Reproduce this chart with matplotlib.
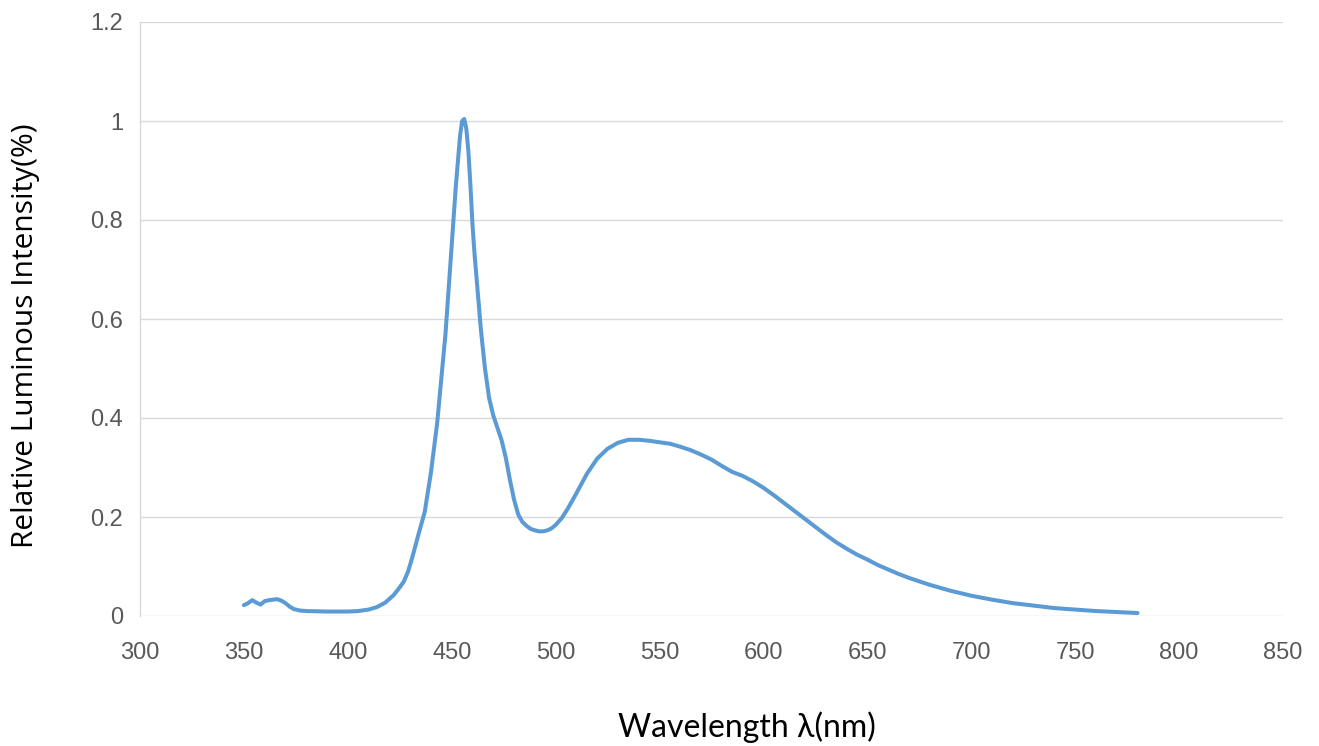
import matplotlib
matplotlib.use("Agg")
import matplotlib.pyplot as plt

wavelength = [350, 352, 354, 356, 358, 360, 362, 364, 366, 368, 370, 372, 374, 377, 380, 390, 400,
              405, 410, 414, 418, 422, 425, 427, 429, 431, 434, 437, 440, 443, 445, 447, 449, 451, 452,
              453, 454, 455, 456, 457, 458, 459, 460, 461, 462, 463, 464, 466, 468, 470, 472, 474, 476,
              478, 480, 482, 484, 486, 488, 490, 492, 494, 496, 498, 500, 503, 506, 510, 515, 520, 525,
              530, 535, 540, 545, 550, 555, 560, 565, 570, 575, 580, 585, 590, 595, 600, 605, 610, 615,
              620, 625, 630, 635, 640, 645, 650, 655, 660, 665, 670, 680, 690, 700, 710, 720, 730, 740,
              750, 760, 770, 780]
intensity = [0.022, 0.026, 0.032, 0.027, 0.023, 0.030, 0.032, 0.033, 0.034, 0.031, 0.026, 0.019, 0.014,
             0.011, 0.010, 0.009, 0.009, 0.010, 0.013, 0.018, 0.027, 0.042, 0.058, 0.070, 0.090, 0.118,
             0.165, 0.210, 0.290, 0.390, 0.480, 0.570, 0.690, 0.810, 0.870, 0.920, 0.970, 1.000, 1.004,
             0.985, 0.940, 0.870, 0.790, 0.730, 0.680, 0.630, 0.580, 0.500, 0.440, 0.405, 0.380, 0.355,
             0.320, 0.275, 0.235, 0.205, 0.190, 0.182, 0.176, 0.173, 0.171, 0.171, 0.173, 0.177, 0.184,
             0.198, 0.218, 0.248, 0.287, 0.318, 0.338, 0.350, 0.356, 0.356, 0.354, 0.351, 0.348, 0.342,
             0.335, 0.326, 0.316, 0.303, 0.291, 0.283, 0.272, 0.259, 0.244, 0.228, 0.212, 0.196, 0.180,
             0.164, 0.149, 0.136, 0.124, 0.114, 0.103, 0.094, 0.085, 0.077, 0.063, 0.051, 0.041, 0.033,
             0.026, 0.021, 0.016, 0.013, 0.010, 0.008, 0.006]

x_ticks = [300, 350, 400, 450, 500, 550, 600, 650, 700, 750, 800, 850]
y_ticks = [0, 0.2, 0.4, 0.6, 0.8, 1.0, 1.2]
y_tick_labels = ["0", "0.2", "0.4", "0.6", "0.8", "1", "1.2"]

fig = plt.figure(figsize=(13.19, 7.46), dpi=100)
ax = fig.add_axes([140/1319, 1-616/746, (1283-140)/1319, (616-22)/746])

ax.plot(wavelength, intensity, color="#5B9BD5", linewidth=2.9, solid_capstyle="round",
        solid_joinstyle="round", zorder=3)

ax.set_xlim(300, 850)
ax.set_ylim(0, 1.2)
ax.set_xticks(x_ticks)
ax.set_xticklabels([str(t) for t in x_ticks])
ax.set_yticks(y_ticks)
ax.set_yticklabels(y_tick_labels)
ax.grid(axis="y", color="#D9D9D9", linewidth=1.0)
ax.set_axisbelow(True)
for s in ["top", "right", "bottom"]:
    ax.spines[s].set_visible(False)
ax.spines["left"].set_color("#D9D9D9")
ax.spines["left"].set_linewidth(1.0)
ax.tick_params(axis="both", length=0, labelcolor="#595959", labelsize=17)
ax.tick_params(axis="x", pad=19)
ax.tick_params(axis="y", pad=12)
for lab in ax.get_xticklabels() + ax.get_yticklabels():
    lab.set_fontfamily("Liberation Sans")

fig.text(747/1319, 1-727/746, "Wavelength λ(nm)", ha="center", va="center",
         fontsize=23, color="#000000", family="Lato")
fig.text(26/1319, 1-336/746, "Relative Luminous Intensity(%)", ha="center", va="center",
         rotation=90, fontsize=21.5, color="#000000", family="Open Sans")

fig.savefig("out.png", dpi=100)
